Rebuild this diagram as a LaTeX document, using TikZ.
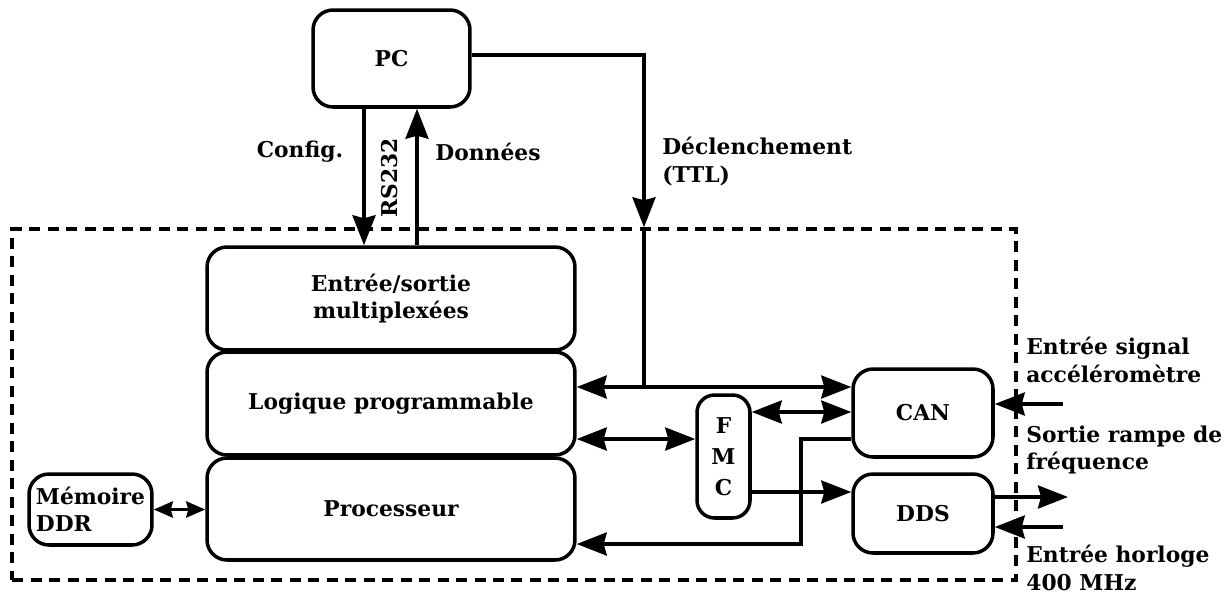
\documentclass[tikz,border=0pt]{standalone}
\usepackage{fontspec}
\setmainfont{DejaVu Serif}
\usetikzlibrary{arrows.meta, calc}

\tikzset{
  txt/.style={font=\fontsize{12.4}{15.5}\selectfont\bfseries},
  blk/.style={draw, line width=2pt, rounded corners=0.4cm, align=center, txt, inner sep=2pt},
  lbl/.style={txt, align=left, inner sep=0pt},
  wire/.style={line width=2pt},
  >={Stealth[length=0.6cm, width=0.46cm, inset=0.06cm]}
}

\begin{document}
\begin{tikzpicture}[x=0.02cm, y=-0.02cm]
  \useasboundingbox (0,0) rectangle (1228,596);

  % carte FPGA
  \node[draw, dash pattern=on 0.22cm off 0.15cm, line width=2pt, minimum width=20.08cm, minimum height=7.02cm, inner sep=0pt] (frame) at (514,404.5) {};

  % blocs
  \node[blk, minimum width=3.14cm, minimum height=1.94cm] (pc) at (391.5,58.5) {PC};
  \node[blk, minimum width=7.36cm, minimum height=2.06cm] (io) at (391,298.5) {Entrée/sortie\\multiplexées};
  \node[blk, minimum width=7.36cm, minimum height=2.06cm] (logic) at (391,403.5) {Logique programmable};
  \node[blk, minimum width=7.36cm, minimum height=2.04cm] (cpu) at (391,509) {Processeur};
  \node[blk, minimum width=2.46cm, minimum height=1.42cm, align=left, inner sep=1pt] (ddr) at (90.5,509.5) {Mémoire\\DDR};
  \node[blk, minimum width=1.06cm, minimum height=2.46cm, rounded corners=0.35cm] (fmc) at (723.5,456.5) {F\\[2pt]M\\[2pt]C};
  \node[blk, minimum width=2.8cm, minimum height=1.76cm] (can) at (923,413) {CAN};
  \node[blk, minimum width=2.8cm, minimum height=1.58cm] (dds) at (923,513.5) {DDS};

  % liaison PC
  \draw[wire, ->] (pc.south -| 364,0) -- (io.north -| 364,0);
  \draw[wire, ->] (io.north -| 417,0) -- (pc.south -| 417,0);
  \node[lbl] (cfg) at (300,152) {Config.};
  \node[lbl, rotate=90] (rs) at (390,178) {RS232};
  \node[lbl] (data) at (488,152) {Données};

  % declenchement
  \coordinate (trig) at (644,387);
  \draw[wire, ->] (pc.east |- 0,55) -| (frame.north -| trig);
  \draw[wire] (frame.north -| trig) -- (trig);
  \node[lbl, anchor=north west] (ttl) at (662,137) {Déclenchement\\(TTL)};

  % liaisons internes
  \draw[wire, <->] (logic.east |- trig) -- (can.west |- trig);
  \draw[wire, <->] (fmc.east |- 0,412) -- (can.west |- 0,412);
  \draw[wire, <->] (logic.east |- 0,439) -- (fmc.west |- 0,439);
  \draw[wire, ->] (fmc.east |- 0,492) -- (dds.west |- 0,492);
  \draw[wire, ->] (can.west |- 0,439) -- (801,439) -- (801,544) -- (cpu.east |- 0,544);
  \draw[wire, <->, >={Stealth[length=0.38cm, width=0.32cm, inset=0.04cm]}] (ddr.east) -- (cpu.west |- ddr.east);

  % entrees / sorties
  \coordinate (accin) at (1063,404);
  \coordinate (rampout) at (1068,497);
  \coordinate (clkin) at (1063,527);
  \draw[wire, ->] (accin) -- (can.east |- accin);
  \draw[wire, ->] (dds.east |- rampout) -- (rampout);
  \draw[wire, ->] (clkin) -- (dds.east |- clkin);
  \node[lbl, anchor=west] (acclbl) at (1026,360) {Entrée signal\\accéléromètre};
  \node[lbl, anchor=west] (ramplbl) at (1026,450) {Sortie rampe de\\fréquence};
  \node[lbl, anchor=west] (clklbl) at (1026,568) {Entrée horloge\\400 MHz};
\end{tikzpicture}
\end{document}
